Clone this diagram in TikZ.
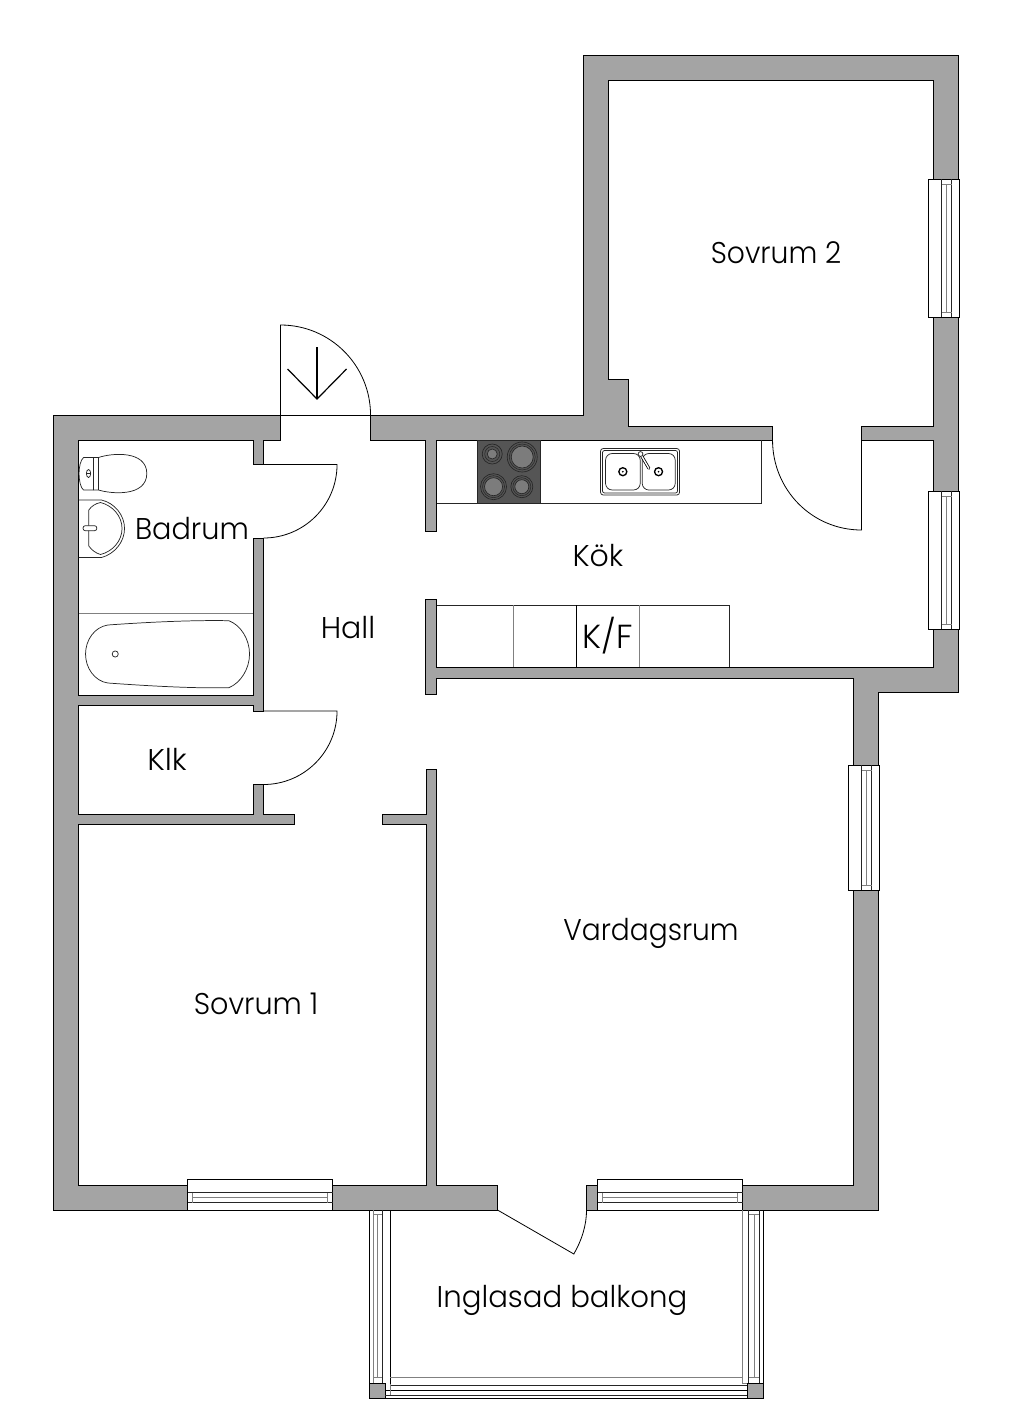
\documentclass[tikz,border=0pt]{standalone}
\usepackage{fontspec}
\setmainfont{Poppins Light}
\definecolor{wallgray}{HTML}{A4A4A4}
\definecolor{hobdark}{HTML}{555555}
\definecolor{hobdisc}{HTML}{7C7C7C}
\tikzset{
  wall/.style={fill=wallgray,draw=black,line width=.7pt,line join=miter},
  thin line/.style={draw=black,line width=.6pt},
  fixture/.style={draw=black!85,line width=.55pt},
  pale/.style={draw=black!50,line width=.55pt},
  roomlabel/.style={font=\fontsize{22.5pt}{24pt}\selectfont,text=black,inner sep=0pt},
}
\newcommand\hwin[3]{% x1 x2 top y: frame on top, sill at 31 below
  \draw[thin line] (#1,#3+31) -- (#1,#3) -- (#2,#3) -- (#2,#3+31);
  \draw[thin line] (#1,#3+31) -- (#2,#3+31);
  \draw[fixture] (#1,#3+13) -- (#2,#3+13);
  \draw[pale] (#1+5,#3+18) -- (#2-5,#3+18);
  \draw[fixture] (#1,#3+23) -- (#2,#3+23);
  \draw[pale] (#1+5,#3+13) -- (#1+5,#3+23);
  \draw[pale] (#2-5,#3+13) -- (#2-5,#3+23);
}
\newcommand\vwin[3]{% left x, y1, y2
  \draw[thin line] (#1+31,#2) -- (#1,#2) -- (#1,#3) -- (#1+31,#3);
  \draw[thin line] (#1+31,#2) -- (#1+31,#3);
  \draw[fixture] (#1+13,#2) -- (#1+13,#3);
  \draw[pale] (#1+18,#2+5) -- (#1+18,#3-5);
  \draw[fixture] (#1+23,#2) -- (#1+23,#3);
  \draw[pale] (#1+13,#2+5) -- (#1+23,#2+5);
  \draw[pale] (#1+13,#3-5) -- (#1+23,#3-5);
}
\begin{document}
\begin{tikzpicture}[x=0.75pt,y=-0.75pt]
\useasboundingbox (0,0) rectangle (1024,1425);
\begin{scope}[xshift=-0.35pt]
% walls
\draw[wall] (54,415) -- (281,415) -- (281,440) -- (264,440) -- (264,464.5) -- (253.5,464.5) -- (253.5,440) -- (79,440) -- (79,695) -- (253.5,695) -- (253.5,538) -- (264,538) -- (264,711) -- (253.5,711) -- (253.5,705.5) -- (79,705.5) -- (79,814) -- (253.5,814) -- (253.5,784.5) -- (264,784.5) -- (264,814) -- (294.5,814) -- (294.5,824) -- (79,824) -- (79,1185) -- (188,1185) -- (188,1210) -- (54,1210) -- cycle;
\draw[wall] (333,1210) -- (333,1185) -- (427,1185) -- (427,824) -- (383,824) -- (383,814) -- (427,814) -- (427,769) -- (437,769) -- (437,1185) -- (498,1185) -- (498,1210) -- cycle;
\draw[wall] (371,415) -- (584,415) -- (584,55) -- (959,55) -- (959,179) -- (934,179) -- (934,80) -- (609,80) -- (609,379) -- (629,379) -- (629,426) -- (773,426) -- (773,440) -- (437,440) -- (437,531) -- (426,531) -- (426,440) -- (371,440) -- cycle;
\draw[wall] (862,426) -- (934,426) -- (934,317) -- (959,317) -- (959,491) -- (934,491) -- (934,440) -- (862,440) -- cycle;
\draw[wall] (934,629) -- (959,629) -- (959,692) -- (879,692) -- (879,765) -- (854,765) -- (854,678) -- (437,678) -- (437,694) -- (426,694) -- (426,599) -- (437,599) -- (437,667) -- (934,667) -- cycle;
\draw[wall] (854,890) -- (879,890) -- (879,1210) -- (743,1210) -- (743,1185) -- (854,1185) -- cycle;
\draw[wall] (587,1185) rectangle (598,1210);
% balcony corner posts
\draw[wall] (369.5,1383) rectangle (385.5,1398);
\draw[wall] (747.5,1383) rectangle (763.5,1398);
% windows
\vwin{929}{179}{317}
\vwin{929}{491}{629}
\vwin{849}{765}{890}
\hwin{188}{333}{1179.5}
\hwin{598}{743}{1179.5}
% balcony glazing
\draw[thin line] (390.5,1210) -- (390.5,1384);
\draw[thin line] (369.5,1210) -- (369.5,1383);
\draw[fixture] (382.5,1210) -- (382.5,1383);
\draw[pale] (373.5,1210) -- (373.5,1383);
\draw[pale] (377.5,1214) -- (377.5,1377);
\draw[pale] (373.5,1214) -- (382.5,1214);
\draw[pale] (373.5,1377) -- (382.5,1377);
\draw[pale] (390.5,1377) -- (742.5,1377);
\draw[fixture] (390.5,1385) -- (747.5,1385);
\draw[thin line] (385.5,1390.5) -- (747.5,1390.5);
\draw[fixture] (385.5,1395) -- (747.5,1395);
\draw[thin line] (385.5,1398) -- (747.5,1398);
\draw[pale] (390.5,1384) -- (390.5,1395);
\draw[pale] (742.5,1210) -- (742.5,1383);
\draw[thin line] (763.5,1210) -- (763.5,1383);
\draw[fixture] (749,1210) -- (749,1383);
\draw[pale] (754.5,1214) -- (754.5,1377);
\draw[fixture] (759.5,1210) -- (759.5,1383);
\draw[pale] (749,1214) -- (759.5,1214);
\draw[pale] (749,1377) -- (759.5,1377);
\draw[pale] (742.5,1383) -- (747.5,1383);
% entrance door
\draw[thin line] (281,415) -- (281,325) .. controls (330.7,325) and (371,365.3) .. (371,415);
\draw[thin line] (281,415) -- (371,415);
\coordinate (arrowtail) at (317.5,347);
\coordinate (arrowtip) at (317.5,399);
\draw[draw=black,line width=.9pt] (arrowtail) -- (arrowtip);
\draw[draw=black,line width=.9pt] (288,369) -- (arrowtip) -- (347,369);
% interior doors
\draw[thin line] (264,464.5) -- (337.5,464.5) .. controls (337.5,505.1) and (304.6,538) .. (264,538);
\draw[thin line] (264,711) -- (337.5,711) .. controls (337.5,751.6) and (304.6,784.5) .. (264,784.5);
\draw[thin line] (773,440) .. controls (773,489.7) and (812.3,530) .. (862,530) -- (862,440);
\draw[thin line] (498,1210) -- (574.3,1254) .. controls (582,1240.6) and (587,1225.5) .. (587,1210);
% bathroom
\draw[pale] (79,613.5) -- (253.5,613.5);
\draw[fixture] (108.3,625) .. controls (150,622) and (195,620) .. (229.3,620.7)
  .. controls (241,625) and (250,639) .. (250,654)
  .. controls (250,669) and (241,683) .. (229.3,687.7)
  .. controls (195,688.5) and (150,686) .. (108.3,683)
  .. controls (95,681) and (86,668) .. (86,654)
  .. controls (86,640) and (95,627) .. (108.3,625) -- cycle;
\draw[fixture] (115.7,654) circle[radius=2.3pt];
% toilet
\draw[fixture] (94,457.5) -- (84,457.5) .. controls (81,460) and (79.5,467) .. (79.5,473.5) .. controls (79.5,480) and (81,488) .. (84,490) -- (94,490) -- cycle;
\draw[fixture] (94,457.5) -- (99,457.5) .. controls (112,453) and (147,450) .. (147.3,473.5) .. controls (147,497) and (112,494) .. (99,490) -- (94,490);
\draw[fixture] (99,457.5) -- (99,490);
\draw[fixture] (89,473.5) ellipse[x radius=1.6pt,y radius=3pt];
\draw[fixture] (87.2,473.5) -- (90.8,473.5);
% basin
\draw[fixture] (79,500) -- (102,500) .. controls (115,503) and (125,515) .. (125,528.5) .. controls (125,542) and (115,554) .. (102,557.5) -- (79,557.5);
\draw[fixture] (89.3,510) .. controls (92,506) and (96,503.5) .. (101,502.5) .. controls (113,505.5) and (122.5,516) .. (122.5,528.5) .. controls (122.5,541) and (113,551.5) .. (101,554.5) .. controls (96,553) and (92,550) .. (89.3,546) -- cycle;
\draw[fixture,fill=white,rounded corners=1.7pt] (83.5,525.7) rectangle (97.3,530.7);
% counters
\draw[fixture] (437,503) -- (762,503) -- (762,440);
\draw[fixture,fill=hobdark] (478.3,440) rectangle (541,503);
\foreach \cx/\cy/\ro/\ri in {492.7/454/10/5, 522.7/457/15/11, 494/486.7/13/9, 522.3/486.7/11/7}{
  \fill[hobdisc] (\cx,\cy) circle[radius=\ri*0.75pt];
  \draw[draw=black!85,line width=.5pt] (\cx,\cy) circle[radius=\ro*0.75pt];
  \draw[draw=black!85,line width=.5pt] (\cx,\cy) circle[radius=\ri*0.75pt];
  \draw[draw=black!85,line width=.4pt] (\cx,\cy) circle[radius={(\ri+\ro)*0.375pt}];
}
% sink
\draw[fixture,rounded corners=2pt] (601,448.5) rectangle (680,495);
\draw[fixture,rounded corners=1.5pt] (603,450.5) rectangle (678,493);
\draw[fixture,rounded corners=5pt] (606,453.5) rectangle (640.7,490);
\draw[fixture,rounded corners=5pt] (642.7,453.5) rectangle (675.7,490);
\foreach \cx in {623.3,659}{
  \draw[draw=black,line width=1pt] (\cx,471.7) circle[radius=3pt];
  \fill[black] (\cx,471.7) circle[radius=.7pt];
}
\draw[draw=black,line width=2.2pt,line cap=round] (641.5,455) -- (649.3,468.3);
\draw[draw=white,line width=1pt,line cap=round] (641.5,455) -- (649.3,468.3);
\draw[fixture,fill=white] (641,454) circle[radius=1.8pt];
% fridge row
\draw[fixture] (437,605) -- (730,605) -- (730,667);
\draw[pale] (514,605) -- (514,667);
\draw[thin line] (577,605) -- (577,667);
\draw[pale] (640,605) -- (640,667);
\end{scope}
% labels
\node[roomlabel] (sovrum2) at (776,253) {\scalebox{.94}[1]{Sovrum 2}};
\node[roomlabel] (badrum) at (192,528.5) {\scalebox{.957}[1]{Badrum}};
\node[roomlabel] (hall) at (348,628) {Hall};
\node[roomlabel] (kok) at (598,555.5) {Kök};
\node[roomlabel,font=\fontsize{25pt}{26pt}\selectfont] (kf) at (608,636) {K/F};
\node[roomlabel] (klk) at (167,759.5) {\scalebox{1.03}[1]{Klk}};
\node[roomlabel] (sovrum1) at (256,1004) {\scalebox{.954}[1]{Sovrum 1}};
\node[roomlabel] (vardagsrum) at (651,933) {\scalebox{.935}[1]{Vardagsrum}};
\node[roomlabel] (balkong) at (562,1300) {\scalebox{.973}[1]{Inglasad balkong}};
\end{tikzpicture}
\end{document}
